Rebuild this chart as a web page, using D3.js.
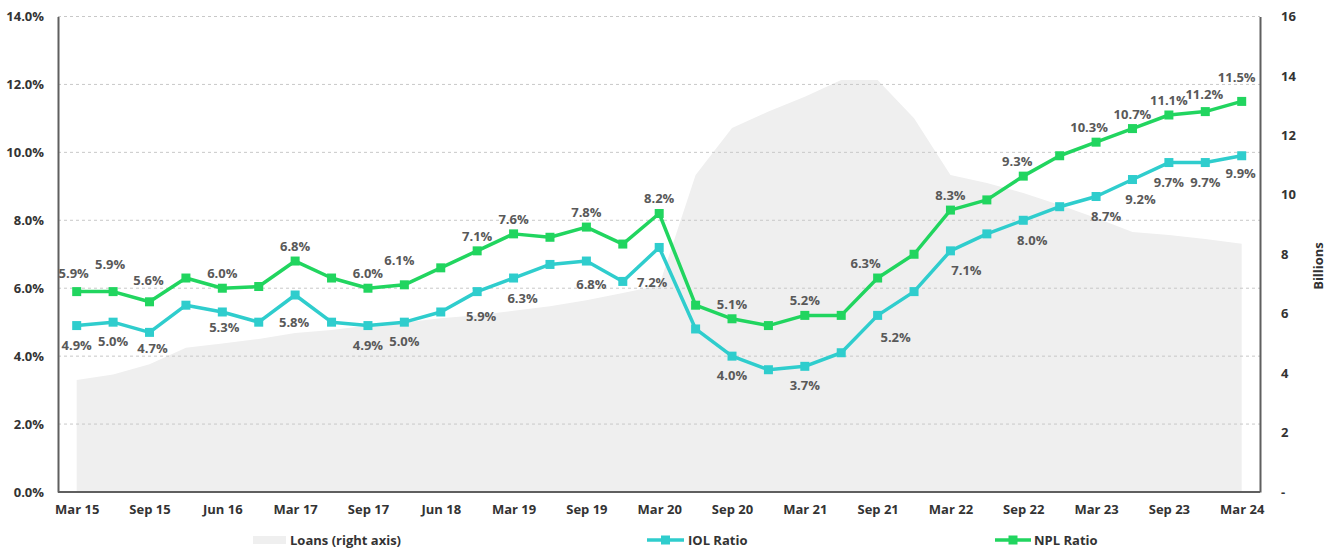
<!DOCTYPE html>
<html>
<head>
<meta charset="utf-8">
<script src="https://cdn.jsdelivr.net/npm/d3@7"></script>
<style>
  html, body { margin: 0; padding: 0; background: #fff; }
  svg { display: block; font-family: "Open Sans", Lato, sans-serif; font-weight: 700; }
</style>
</head>
<body>
<svg id="chart" width="1336" height="549"></svg>
<script>
// Quarterly observations (33 periods); every second period carries an axis label
const tickLabels = ["Mar 15", "Sep 15", "Jun 16", "Mar 17", "Sep 17", "Jun 18", "Mar 19", "Sep 19",
  "Mar 20", "Sep 20", "Mar 21", "Sep 21", "Mar 22", "Sep 22", "Mar 23", "Sep 23", "Mar 24"];

// Loans outstanding, billions (right axis)
const loans = [3.77, 3.95, 4.3, 4.85, 5.0, 5.15, 5.35, 5.45, 5.6, 5.7, 5.85, 5.95, 6.1, 6.25, 6.45, 6.7, 6.95,
  10.67, 12.25, 12.8, 13.3, 13.86, 13.86, 12.58, 10.67, 10.4, 10.06, 9.66, 9.22, 8.75, 8.65, 8.51, 8.35];

// Impaired / non-performing loan ratios, percent (left axis)
const iolRatio = [4.9, 5.0, 4.7, 5.5, 5.3, 5.0, 5.8, 5.0, 4.9, 5.0, 5.3, 5.9, 6.3, 6.7, 6.8, 6.2, 7.2,
  4.8, 4.0, 3.6, 3.7, 4.1, 5.2, 5.9, 7.1, 7.6, 8.0, 8.4, 8.7, 9.2, 9.7, 9.7, 9.9];
const nplRatio = [5.9, 5.9, 5.6, 6.3, 6.0, 6.05, 6.8, 6.3, 6.0, 6.1, 6.6, 7.1, 7.6, 7.5, 7.8, 7.3, 8.2,
  5.5, 5.1, 4.9, 5.2, 5.2, 6.3, 7.0, 8.3, 8.6, 9.3, 9.9, 10.3, 10.7, 11.1, 11.2, 11.5];

// Periods whose values are printed on the chart
const labelledPeriods = [0, 1, 2, 4, 6, 8, 9, 11, 12, 14, 16, 18, 20, 22, 24, 26, 28, 29, 30, 31, 32];

const leftTicks = [0, 2, 4, 6, 8, 10, 12, 14];
const rightTicks = [0, 2, 4, 6, 8, 10, 12, 14, 16];

// Label nudges [dx, dy] relative to the default placement
const nplNudge = {0: [-3, -4], 1: [-3, -13], 2: [-1, -7], 9: [-5, -10], 22: [-12, 0], 26: [-6, 0], 28: [-7, 0], 31: [-1, -3], 32: [-5, -9]};
const iolNudge = {2: [3, -3], 4: [2, -4], 6: [-1, 8], 11: [4, 5], 12: [9, 1], 14: [5, 4], 16: [-7, 16], 22: [18, 3], 24: [16, 0], 26: [9, 1], 28: [10, 0], 29: [8, 0], 32: [-1, -2]};

const svg = d3.select("#chart");
const plotLeft = 58, plotRight = 1260, plotTop = 16.5, plotBottom = 492;

const n = nplRatio.length;
const x = d3.scalePoint().domain(d3.range(n)).range([76.7, 1241.7]);
const yL = d3.scaleLinear().domain([0, 14]).range([plotBottom, plotTop]);
const yR = d3.scaleLinear().domain([0, 16]).range([plotBottom, plotTop]);

const green = "#21d55f", teal = "#2fcdcd", labelGrey = "#595959", axisGrey = "#5f5f5f";

// Loans area behind everything
svg.append("path")
  .datum(loans)
  .attr("fill", "#efefef")
  .attr("d", d3.area().x((d, i) => x(i)).y0(yR(0)).y1(d => yR(d)));

// Dashed gridlines
svg.append("g").selectAll("line")
  .data(leftTicks.filter(t => t > 0))
  .join("line")
  .attr("x1", plotLeft).attr("x2", plotRight)
  .attr("y1", d => yL(d)).attr("y2", d => yL(d))
  .attr("stroke", "#c8c8c8").attr("stroke-width", 1)
  .attr("stroke-dasharray", "3,3");

function styleTicks(g) {
  g.selectAll("text").attr("font-size", 13).attr("fill", "#333").attr("font-weight", 700)
    .style("font-family", "'Open Sans', sans-serif");
}

// Left axis
const gL = svg.append("g").attr("transform", `translate(${plotLeft},0)`)
  .call(d3.axisLeft(yL).tickValues(leftTicks).tickFormat(d => d.toFixed(1) + "%").tickSize(0).tickPadding(14));
gL.select(".domain").attr("stroke", axisGrey).attr("stroke-width", 2);
styleTicks(gL);

// Right axis
const gR = svg.append("g").attr("transform", `translate(${plotRight},0)`)
  .call(d3.axisRight(yR).tickValues(rightTicks).tickFormat(d => d === 0 ? "-" : d).tickSize(0).tickPadding(21));
gR.select(".domain").attr("stroke", axisGrey).attr("stroke-width", 2);
styleTicks(gR);

// Bottom axis
const gB = svg.append("g").attr("transform", `translate(0,${plotBottom})`)
  .call(d3.axisBottom(x).tickValues(d3.range(0, n, 2)).tickFormat(i => tickLabels[i / 2]).tickSize(0).tickPadding(13));
gB.select(".domain").attr("d", `M${plotLeft},0H${plotRight}`).attr("stroke", axisGrey).attr("stroke-width", 2);
styleTicks(gB);

// Right axis title
svg.append("text")
  .attr("transform", "translate(1318,266) rotate(-90)")
  .attr("text-anchor", "middle")
  .attr("dominant-baseline", "central")
  .attr("font-size", 13).attr("fill", "#333")
  .text("Billions");

function drawSeries(values, color) {
  svg.append("path")
    .datum(values)
    .attr("fill", "none").attr("stroke", color).attr("stroke-width", 3.5)
    .attr("stroke-linejoin", "round")
    .attr("d", d3.line().x((d, i) => x(i)).y(d => yL(d)));
  svg.append("g").selectAll("rect")
    .data(values)
    .join("rect")
    .attr("x", (d, i) => x(i) - 4.5).attr("y", d => yL(d) - 4.5)
    .attr("width", 9).attr("height", 9)
    .attr("fill", color);
}

drawSeries(iolRatio, teal);
drawSeries(nplRatio, green);

function drawLabels(values, baseDy, nudge) {
  svg.append("g").selectAll("text")
    .data(labelledPeriods)
    .join("text")
    .attr("x", i => x(i) + (nudge[i] ? nudge[i][0] : 0))
    .attr("y", i => yL(values[i]) + baseDy + (nudge[i] ? nudge[i][1] : 0))
    .attr("text-anchor", "middle")
    .attr("dominant-baseline", "central")
    .attr("font-size", 13).attr("fill", labelGrey)
    .text(i => values[i].toFixed(1) + "%");
}

drawLabels(nplRatio, -15, nplNudge);
drawLabels(iolRatio, 19, iolNudge);

// Legend
const legend = svg.append("g").attr("font-size", 13).attr("fill", "#333");
legend.append("rect").attr("x", 253).attr("y", 536).attr("width", 33).attr("height", 8).attr("fill", "#efefef");
legend.append("text").attr("x", 290).attr("y", 540).attr("dominant-baseline", "central").text("Loans (right axis)");

legend.append("line").attr("x1", 647).attr("x2", 684).attr("y1", 540).attr("y2", 540).attr("stroke", teal).attr("stroke-width", 3.5);
legend.append("rect").attr("x", 661).attr("y", 535.5).attr("width", 9).attr("height", 9).attr("fill", teal);
legend.append("text").attr("x", 688).attr("y", 540).attr("dominant-baseline", "central").text("IOL Ratio");

legend.append("line").attr("x1", 995).attr("x2", 1031).attr("y1", 540).attr("y2", 540).attr("stroke", green).attr("stroke-width", 3.5);
legend.append("rect").attr("x", 1008.5).attr("y", 535.5).attr("width", 9).attr("height", 9).attr("fill", green);
legend.append("text").attr("x", 1034).attr("y", 540).attr("dominant-baseline", "central").text("NPL Ratio");
</script>
</body>
</html>
